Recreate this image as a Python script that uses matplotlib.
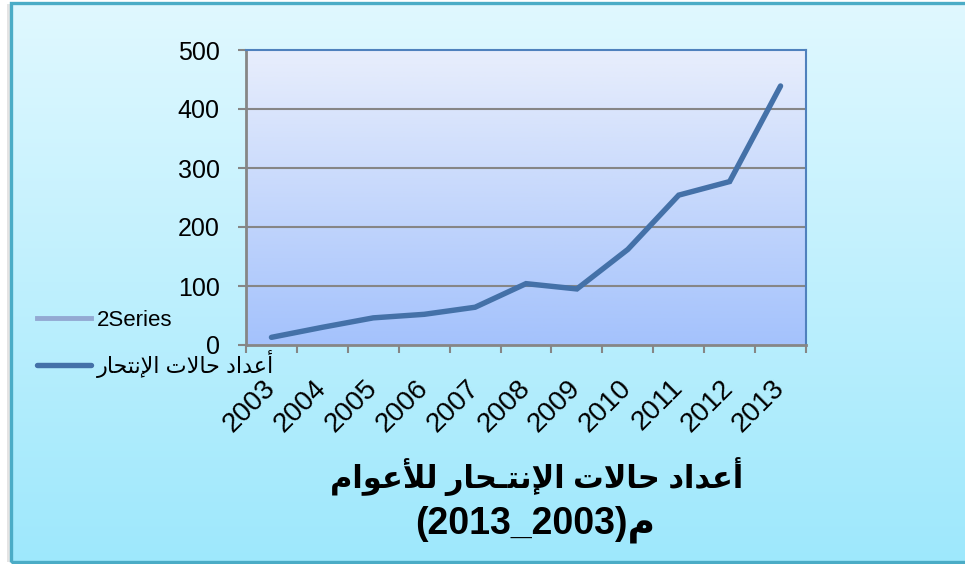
import numpy as np
import matplotlib
matplotlib.use('Agg')
from matplotlib import pyplot as plt
from matplotlib.patches import Rectangle

# 数据
years = ['2003', '2004', '2005', '2006', '2007', '2008', '2009', '2010', '2011', '2012', '2013']
cases = [13, 30, 46, 52, 64, 104, 95, 162, 254, 277, 439]
y_ticks = [0, 100, 200, 300, 400, 500]

series_label = 'أعداد حالات الإنتحار'
title_line1 = 'أعداد حالات الإنتـحار للأعوام'
title_line2_num = '(2013_2003)'
title_line2_ar = 'م'

## matplotlib 不会连写阿拉伯字母，自己换成表现形式再倒过来
FORMS = {
    'ا': ('\uFE8D', '\uFE8E', None, None),
    'أ': ('\uFE83', '\uFE84', None, None),
    'إ': ('\uFE87', '\uFE88', None, None),
    'د': ('\uFEA9', '\uFEAA', None, None),
    'ر': ('\uFEAD', '\uFEAE', None, None),
    'و': ('\uFEED', '\uFEEE', None, None),
    'ع': ('\uFEC9', '\uFECA', '\uFECB', '\uFECC'),
    'ح': ('\uFEA1', '\uFEA2', '\uFEA3', '\uFEA4'),
    'ل': ('\uFEDD', '\uFEDE', '\uFEDF', '\uFEE0'),
    'ت': ('\uFE95', '\uFE96', '\uFE97', '\uFE98'),
    'ن': ('\uFEE5', '\uFEE6', '\uFEE7', '\uFEE8'),
    'م': ('\uFEE1', '\uFEE2', '\uFEE3', '\uFEE4'),
    'ـ': ('\u0640', '\u0640', '\u0640', '\u0640'),
    'لا': ('\uFEFB', '\uFEFC', None, None),
    'لأ': ('\uFEF7', '\uFEF8', None, None),
    'لإ': ('\uFEF9', '\uFEFA', None, None),
}


def shape(text):
    tokens = []
    i = 0
    while i < len(text):
        if text[i] == 'ل' and i + 1 < len(text) and text[i + 1] in 'اأإ':
            tokens.append(text[i:i + 2])
            i += 2
        else:
            tokens.append(text[i])
            i += 1
    out = []
    for k, t in enumerate(tokens):
        if t not in FORMS:
            out.append(t)
            continue
        prev = tokens[k - 1] if k > 0 else None
        nxt = tokens[k + 1] if k + 1 < len(tokens) else None
        join_prev = prev in FORMS and FORMS[prev][2] is not None
        join_next = FORMS[t][2] is not None and nxt in FORMS
        iso, fin, ini, med = FORMS[t]
        if join_prev and join_next:
            out.append(med)
        elif join_prev:
            out.append(fin)
        elif join_next:
            out.append(ini)
        else:
            out.append(iso)
    return ''.join(reversed(out))


fonts = ['Liberation Sans', 'DejaVu Sans']
plt.rcParams['font.family'] = fonts

W, H = 965, 564
fig = plt.figure(figsize=(W / 100, H / 100), dpi=100, facecolor='white')

## 外框渐变背景
bg = fig.add_axes([11 / W, 2 / H, 1 - 11 / W, 1 - 5 / H], zorder=-10)
top_c = np.array([224, 248, 255]) / 255
bot_c = np.array([158, 232, 252]) / 255
t = np.linspace(0, 1, 256)[:, None]
grad = top_c * (1 - t[..., None]) + bot_c * t[..., None]
bg.imshow(grad, aspect='auto', extent=[0, 1, 0, 1])
bg.set_axis_off()
## 左边淡淡的阴影
fig.patches.append(Rectangle((7 / W, 2 / H), 4 / W, 1 - 6 / H, transform=fig.transFigure,
                             facecolor='#e4e4e4', edgecolor='none', zorder=-6))
fig.patches.append(Rectangle((11 / W, 2 / H), 1, 1 - 5 / H, transform=fig.transFigure,
                             fill=False, edgecolor='#4bacc6', linewidth=2.4, zorder=-5))

## 绘图区
ax = fig.add_axes([246 / W, 219 / H, 560 / W, 295 / H])
x = np.arange(len(years))
ax.set_xlim(-0.5, len(years) - 0.5)
ax.set_ylim(0, 500)

p_top = np.array([232, 238, 252]) / 255
p_bot = np.array([164, 194, 252]) / 255
pgrad = p_top * (1 - t[..., None]) + p_bot * t[..., None]
ax.imshow(pgrad, aspect='auto', extent=[-0.5, len(years) - 0.5, 0, 500], zorder=0)

ax.plot([], [], color='#93a9d2', linewidth=3.5, label='2Series')
ax.plot(x, cases, color='#4471a8', linewidth=3.9, solid_capstyle='round',
        solid_joinstyle='miter', label=shape(series_label), zorder=3)

ax.set_yticks(y_ticks)
ax.set_yticklabels([str(v) for v in y_ticks])
ax.set_xticks(x)
ax.set_xticklabels(years, rotation=45, ha='right', va='center', rotation_mode='anchor')
ax.set_xticks(np.arange(-0.5, len(years)), minor=True)
ax.tick_params(axis='x', which='major', length=0, pad=28, labelsize=20)
ax.tick_params(axis='x', which='minor', length=6, width=1.5, color='#868686', direction='out')
ax.tick_params(axis='y', which='major', length=6, width=1.5, color='#868686', pad=13, labelsize=18)

for v in y_ticks[1:-1]:
    ax.axhline(v, color='#868686', linewidth=1.5, zorder=1)

ax.spines['left'].set_color('#868686')
ax.spines['bottom'].set_color('#868686')
ax.spines['left'].set_linewidth(2)
ax.spines['bottom'].set_linewidth(2)
ax.spines['top'].set_color('#4f81bd')
ax.spines['right'].set_color('#4f81bd')
ax.spines['top'].set_linewidth(1.5)
ax.spines['right'].set_linewidth(1.5)

ax.legend(loc='center left', bbox_to_anchor=(37 / W, 1 - 344 / H),
          bbox_transform=fig.transFigure, frameon=False, fontsize=16,
          borderpad=0, borderaxespad=0, handlelength=2.45, handletextpad=0.25,
          labelspacing=0.85)

## 标题
fig.text(537 / W, 1 - 477 / H, shape(title_line1), ha='center', va='center',
         fontsize=22, fontweight='bold')
fig.text(535 / W, 1 - 524 / H, title_line2_num + shape(title_line2_ar), ha='center', va='center',
         fontsize=27, fontweight='bold')

fig.savefig('out.png', dpi=100, facecolor=fig.get_facecolor())
